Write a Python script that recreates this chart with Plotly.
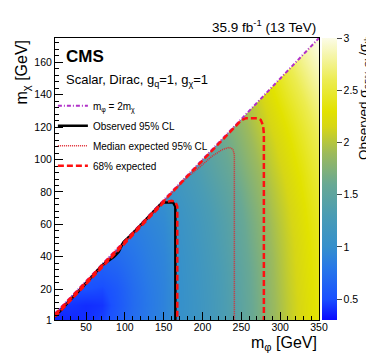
import plotly.graph_objects as go

# heat map nodes (GeV)
m_phi = [10, 30, 50, 70, 90, 110, 130, 150, 170, 190, 210, 230, 250, 270, 290, 310, 330, 350]
m_chi = [0, 10, 20, 30, 40, 50, 60, 70, 80, 90, 100, 110, 120, 130, 140, 150, 160, 170, 180]

# observed sigma_95%CL / sigma_th, one list per m_phi column, from m_chi = 0 up to the diagonal
ratio_cols = [
    [0.36, 0.42],
    [0.38, 0.42, 0.50],
    [0.40, 0.40, 0.50, 0.60],
    [0.46, 0.42, 0.48, 0.58, 0.66],
    [0.58, 0.55, 0.57, 0.63, 0.70, 0.76],
    [0.72, 0.70, 0.71, 0.74, 0.77, 0.81, 0.85],
    [0.82, 0.80, 0.81, 0.83, 0.85, 0.87, 0.90, 0.94],
    [0.90, 0.89, 0.89, 0.90, 0.91, 0.93, 0.95, 0.98, 1.02],
    [1.02, 1.01, 1.01, 1.02, 1.03, 1.05, 1.07, 1.10, 1.14, 1.18],
    [1.10, 1.10, 1.11, 1.12, 1.13, 1.15, 1.17, 1.20, 1.24, 1.28, 1.32],
    [1.20, 1.20, 1.21, 1.22, 1.24, 1.26, 1.28, 1.31, 1.35, 1.40, 1.45, 1.50],
    [1.33, 1.33, 1.34, 1.35, 1.37, 1.39, 1.41, 1.44, 1.48, 1.53, 1.58, 1.63, 1.68],
    [1.48, 1.48, 1.49, 1.50, 1.52, 1.54, 1.56, 1.59, 1.63, 1.68, 1.73, 1.78, 1.83, 1.88],
    [1.66, 1.66, 1.67, 1.68, 1.70, 1.72, 1.74, 1.77, 1.81, 1.85, 1.90, 1.95, 2.00, 2.05, 2.10],
    [1.86, 1.86, 1.87, 1.88, 1.89, 1.91, 1.93, 1.96, 1.99, 2.03, 2.07, 2.11, 2.16, 2.21, 2.27, 2.33],
    [2.05, 2.05, 2.06, 2.07, 2.08, 2.09, 2.11, 2.13, 2.16, 2.19, 2.23, 2.27, 2.32, 2.38, 2.45, 2.52, 2.60],
    [2.20, 2.20, 2.21, 2.22, 2.23, 2.24, 2.26, 2.28, 2.31, 2.34, 2.38, 2.43, 2.48, 2.54, 2.61, 2.68, 2.76, 2.84],
    [2.35, 2.35, 2.36, 2.37, 2.38, 2.40, 2.42, 2.45, 2.48, 2.52, 2.56, 2.61, 2.66, 2.72, 2.78, 2.85, 2.92, 2.98, 3.00],
]

# m_phi = 2 m_chi line
diag_mphi = [10, 350]
diag_mchi = [5, 175]

# observed 95% CL contour
obs_mphi = [10, 20, 30, 40, 50, 60, 70, 78, 86, 92, 98, 110, 120, 130, 140, 147, 152, 162, 165, 165]
obs_mchi = [3, 8.5, 13.5, 18.5, 23.5, 29, 34.5, 37.5, 40, 43, 49, 54.5, 59.5, 64.5, 69.5, 73, 73.5, 73.5, 71, 1]

# median expected 95% CL contour
exp_mphi = [10, 50, 100, 150, 180, 198, 212, 225, 234, 239, 241, 241]
exp_mchi = [3.5, 24, 49, 74, 89, 96, 102, 106, 107.5, 106.5, 103, 1]

# 68% expected band (upper edge, then lower edge)
up68_mphi = [10, 50, 100, 150, 200, 240, 250, 256, 270, 275, 278, 279, 279]
up68_mchi = [4.5, 24.5, 49.5, 74.5, 99.5, 119.5, 124.3, 125.5, 125.5, 124.5, 121, 116, 1]
lo68_mphi = [10, 50, 100, 150, 160, 165, 167.5, 167.5]
lo68_mchi = [3, 23, 48, 73.5, 74.5, 74, 71, 1]

# pad each column above the diagonal (hidden under the white mask) for smooth interpolation
z = []
for j in range(len(m_chi)):
    row = []
    for col in ratio_cols:
        row.append(col[j] if j < len(col) else col[-1])
    z.append(row)

font = "Liberation Sans, Arial, sans-serif"

cscale = [
    [0.0, "#0a0aff"], [0.074, "#1a50ff"], [0.185, "#2878e8"], [0.26, "#3590cc"],
    [0.37, "#4a9cb4"], [0.48, "#68a894"], [0.59, "#9cba5c"], [0.685, "#d6d616"],
    [0.74, "#e2e200"], [0.85, "#ecec50"], [1.0, "#fcfce8"],
]

fig = go.Figure()
fig.add_trace(go.Heatmap(x=m_phi, y=m_chi, z=z, zmin=0.3, zmax=3, zsmooth="best",
                         colorscale=cscale, showscale=True, showlegend=False,
                         colorbar=dict(x=1.011, xanchor="left", thickness=15, len=1, y=0.5,
                                       xpad=0, ypad=0, outlinewidth=0,
                                       tickvals=[0.5, 1, 1.5, 2, 2.5, 3], ticktext=["0.5", "1", "1.5", "2", "2.5", "3"],
                                       ticks="outside", ticklen=5, tickcolor="#444",
                                       tickfont=dict(family=font, size=10.5, color="black"))))

# white mask above the kinematic diagonal
fig.add_trace(go.Scatter(x=[diag_mphi[0], diag_mphi[1], diag_mphi[0]],
                         y=[diag_mchi[0], diag_mchi[1], 180],
                         fill="toself", fillcolor="white", mode="lines",
                         line=dict(width=0, color="white"), showlegend=False, hoverinfo="skip"))

fig.add_trace(go.Scatter(x=diag_mphi, y=diag_mchi, mode="lines", name="m<sub>φ</sub> = 2m<sub>χ</sub>",
                         line=dict(color="#b030c8", width=2, dash="4px,2px,1px,2px"), legendgroup="a"))
fig.add_trace(go.Scatter(x=obs_mphi, y=obs_mchi, mode="lines", name="Observed 95% CL",
                         line=dict(color="black", width=2.5), legendgroup="b"))
fig.add_trace(go.Scatter(x=exp_mphi, y=exp_mchi, mode="lines", name="Median expected 95% CL",
                         line=dict(color="#e02830", width=1.5, dash="1px,1px"), legendgroup="c"))
fig.add_trace(go.Scatter(x=up68_mphi + [None] + lo68_mphi, y=up68_mchi + [None] + lo68_mchi,
                         mode="lines", name="68% expected",
                         line=dict(color="#ff1010", width=2.5, dash="6px,3px"), legendgroup="d"))

# the page body adds an 8px offset, so the figure is laid out 8px up and left
fig.update_layout(
    width=374, height=363,
    margin=dict(l=47, r=63, t=30, b=51),
    paper_bgcolor="white", plot_bgcolor="white",
    font=dict(family=font, color="black"),
    showlegend=True,
    legend=dict(x=-0.008, y=0.811, xanchor="left", yanchor="top", bgcolor="rgba(0,0,0,0)",
                font=dict(size=10), tracegroupgap=1),
    xaxis=dict(range=[10, 350], tick0=0, dtick=50, ticks="inside", ticklen=8, tickcolor="black",
               minor=dict(dtick=10, tick0=0, ticks="inside", ticklen=4, tickcolor="black"),
               showline=True, linecolor="black", linewidth=1, mirror=True, showgrid=False,
               zeroline=False, tickfont=dict(size=10.5), ticklabelstandoff=-3),
    yaxis=dict(range=[1, 175], tickmode="array", tickvals=[1, 20, 40, 60, 80, 100, 120, 140, 160],
               ticks="inside", ticklen=8, tickcolor="black",
               minor=dict(dtick=4, tick0=0, ticks="inside", ticklen=4, tickcolor="black"),
               showline=True, linecolor="black", linewidth=1, mirror=True, showgrid=False,
               zeroline=False, tickfont=dict(size=10.5)),
    annotations=[
        dict(text="m<sub>χ</sub> [GeV]", textangle=-90, xref="paper", yref="paper", x=-0.125, y=1.0,
             xanchor="center", yanchor="top", showarrow=False, font=dict(size=16)),
        dict(text="m<sub>φ</sub> [GeV]", xref="paper", yref="paper", x=1.0, y=-0.085,
             xanchor="right", yanchor="middle", showarrow=False, font=dict(size=16)),
        dict(text="35.9 fb<sup>-1</sup> (13 TeV)", xref="paper", yref="paper", x=0.995, y=1.005,
             xanchor="right", yanchor="bottom", showarrow=False, font=dict(size=13.5)),
        dict(text="<b>CMS</b>", xref="paper", yref="paper", x=0.033, y=0.933,
             xanchor="left", yanchor="middle", showarrow=False, font=dict(size=17)),
        dict(text="Scalar, Dirac, g<sub>q</sub>=1, g<sub>χ</sub>=1", xref="paper", yref="paper", x=0.033, y=0.851,
             xanchor="left", yanchor="middle", showarrow=False, font=dict(size=13)),
        dict(text="Observed σ<sub>95% CL</sub>/σ<sub>th</sub>", textangle=-90, xref="paper", yref="paper",
             x=1.175, y=1.015, xanchor="center", yanchor="top", showarrow=False, font=dict(size=13.5)),
    ],
)

fig.write_html("out.html")
